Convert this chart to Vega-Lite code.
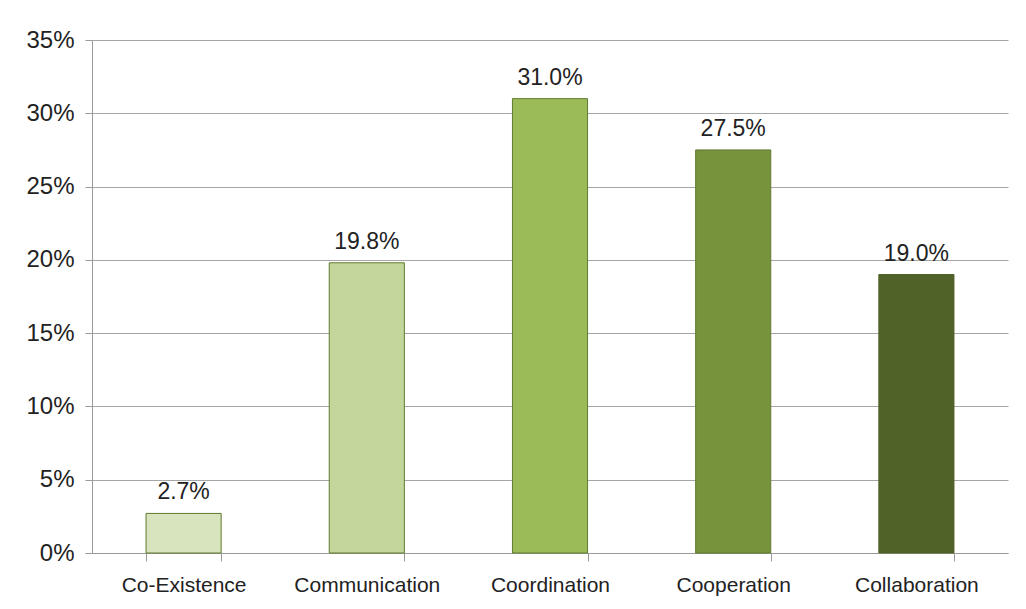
{
  "$schema": "https://vega.github.io/schema/vega-lite/v6.json",
  "autosize": "none",
  "width": 916,
  "height": 513,
  "padding": {"left": 92, "top": 40, "right": 18, "bottom": 56},
  "background": "white",
  "config": {
    "view": {"stroke": null},
    "font": "Liberation Sans"
  },
  "data": {
    "values": [
      {"category": "Co-Existence", "share": 0.027, "label": "2.7%", "color": "#D7E4BD", "edge": "#5f7a2e"},
      {"category": "Communication", "share": 0.198, "label": "19.8%", "color": "#C3D69B", "edge": "#5f7a2e"},
      {"category": "Coordination", "share": 0.31, "label": "31.0%", "color": "#9BBB59", "edge": "#5f7a2e"},
      {"category": "Cooperation", "share": 0.275, "label": "27.5%", "color": "#77933C", "edge": "#5f7a2e"},
      {"category": "Collaboration", "share": 0.19, "label": "19.0%", "color": "#4F6228", "edge": "#4F6228"}
    ]
  },
  "encoding": {
    "x": {
      "field": "category",
      "type": "nominal",
      "sort": null,
      "scale": {"paddingInner": 0.59, "paddingOuter": 0.295},
      "axis": {
        "title": null,
        "labelAngle": 0,
        "labelFont": "Liberation Sans",
        "labelFontSize": 21,
        "labelColor": "#222222",
        "labelPadding": 13,
        "tickBand": "extent",
        "tickSize": 8,
        "tickColor": "#9a9a9a",
        "domainColor": "#9a9a9a",
        "grid": false
      }
    },
    "y": {
      "field": "share",
      "type": "quantitative",
      "scale": {"domain": [0, 0.35], "nice": false},
      "axis": {
        "title": null,
        "values": [0, 0.05, 0.1, 0.15, 0.2, 0.25, 0.3, 0.35],
        "format": ".0%",
        "labelFont": "Liberation Sans",
        "labelFontSize": 24,
        "labelColor": "#222222",
        "labelPadding": 11,
        "tickSize": 7,
        "tickColor": "#9a9a9a",
        "domainColor": "#9a9a9a",
        "gridColor": "#a6a6a6",
        "grid": true
      }
    }
  },
  "layer": [
    {
      "mark": {"type": "bar", "strokeWidth": 1},
      "encoding": {
        "color": {"field": "color", "type": "nominal", "scale": null},
        "stroke": {"field": "edge", "type": "nominal", "scale": null}
      }
    },
    {
      "mark": {"type": "text", "baseline": "alphabetic", "dy": -14, "fontSize": 23, "font": "Liberation Sans", "color": "#222222"},
      "encoding": {"text": {"field": "label"}}
    }
  ]
}
